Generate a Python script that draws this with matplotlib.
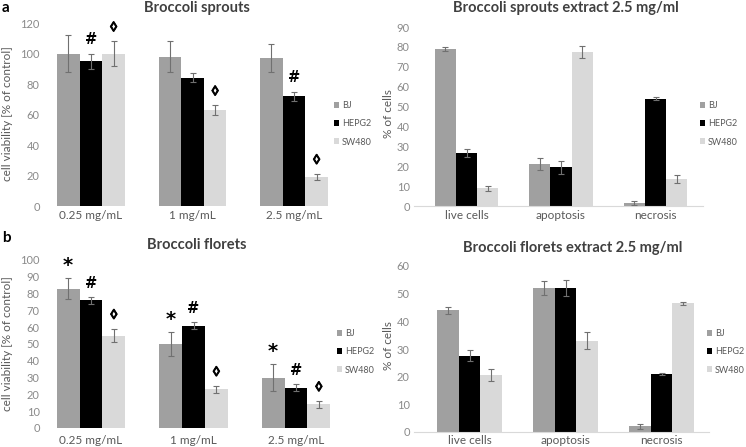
import matplotlib
matplotlib.use("Agg")
import matplotlib.pyplot as plt
import matplotlib.patheffects as pe
import numpy as np
from matplotlib.patches import Patch

plt.rcParams['font.family'] = ['Lato', 'DejaVu Sans']

series = ["BJ", "HEPG2", "SW480"]
colors = ["#a0a0a0", "#000000", "#d9d9d9"]

doses = ["0.25 mg/mL", "1 mg/mL", "2.5 mg/mL"]
death = ["live cells", "apoptosis", "necrosis"]

# Panel a left: Broccoli sprouts viability
sprouts_vals = [[100, 98, 97], [95, 84, 72], [100, 63, 19]]
sprouts_err = [[12, 10, 9], [5, 3, 3], [8, 3, 2]]
sprouts_marks = [[0, 0, 0], [1, 0, 1], [1, 1, 1]]

# Panel a right: Broccoli sprouts extract 2.5 mg/ml
sprext_vals = [[78.8, 21, 1.5], [26.5, 19.5, 54], [8.8, 77.5, 13.5]]
sprext_err = [[1, 3, 0.9], [2, 3.2, 0.9], [1.2, 3, 2]]

# Panel b left: Broccoli florets viability
florets_vals = [[83, 50, 30], [76, 61, 24], [55, 23, 14]]
florets_err = [[6, 7, 8], [2, 2, 2], [4, 2, 2]]
florets_marks = [[1, 1, 1], [1, 1, 1], [1, 1, 1]]

# Panel b right: Broccoli florets extract 2.5 mg/ml
florext_vals = [[44, 52, 2], [27.5, 52, 21], [20.5, 33, 46.5]]
florext_err = [[1.2, 2.5, 1], [2, 3, 0.5], [2.2, 3, 0.6]]

symbols = ["*", "#", "\u25CA"]

W, H = 746, 447
fig = plt.figure(figsize=(W / 100, H / 100), dpi=100)

tick_color = "#8a8a8a"
lab_color = "#595959"


def make_axes(x0, x1, ytop, ybot):
    return fig.add_axes([x0 / W, 1 - ybot / H, (x1 - x0) / W, (ybot - ytop) / H])


def draw(ax, cats, vals, errs, ymax, ystep, marks=None, baseline=False,
         legend_xy=None, xlim=(-0.5, 2.5), barw=0.223, xpad=3):
    x = np.arange(len(cats))
    for i, (v, e) in enumerate(zip(vals, errs)):
        ax.bar(x + (i - 1) * barw, v, width=barw, color=colors[i], zorder=2)
        ax.errorbar(x + (i - 1) * barw, v, yerr=e, fmt="none", ecolor="#707070",
                    elinewidth=0.8, capsize=2.5, capthick=0.8, zorder=3)
        if marks is not None:
            for j in range(len(cats)):
                if marks[i][j]:
                    sym = symbols[i]
                    if sym == "*":
                        kw = dict(fontsize=14, family="DejaVu Sans", xytext=(0, 9))
                    elif sym == "#":
                        kw = dict(fontsize=10.5, family="DejaVu Sans", xytext=(0, 10))
                    else:
                        kw = dict(fontsize=10, family=["Liberation Sans", "DejaVu Sans"],
                                  xytext=(0, 10),
                                  path_effects=[pe.withStroke(linewidth=0.6,
                                                              foreground="black")])
                    ax.annotate(sym, (x[j] + (i - 1) * barw, v[j] + e[j]),
                                textcoords="offset points", ha="center",
                                va="center", fontweight="bold", color="black", **kw)
    ax.set_xlim(*xlim)
    ax.set_ylim(0, ymax)
    ax.set_yticks(np.arange(0, ymax + 0.1, ystep))
    ax.set_xticks(x)
    ax.set_xticklabels(cats)
    for s in ["top", "right", "left"]:
        ax.spines[s].set_visible(False)
    if baseline:
        ax.spines["bottom"].set_color("#d9d9d9")
        ax.spines["bottom"].set_linewidth(0.8)
    else:
        ax.spines["bottom"].set_visible(False)
    ax.tick_params(axis="y", length=0, labelsize=8, colors=tick_color, pad=3)
    ax.tick_params(axis="x", length=0, labelsize=8.5, colors=lab_color, pad=xpad)
    handles = [Patch(facecolor=c, label=s) for c, s in zip(colors, series)]
    leg = fig.legend(handles=handles, loc="center left",
                     bbox_to_anchor=(legend_xy[0] / W, 1 - legend_xy[1] / H),
                     frameon=False, fontsize=6.5, handlelength=0.6, handleheight=0.6,
                     handletextpad=0.3, labelspacing=1.0, borderaxespad=0,
                     borderpad=0)
    for t in leg.get_texts():
        t.set_color(lab_color)


def xl(c0, s, x0, x1):
    return ((x0 - c0) / s, (x1 - c0) / s)


ax1 = make_axes(44, 345, 23, 206)
draw(ax1, doses, sprouts_vals, sprouts_err, 120, 20, marks=sprouts_marks,
     legend_xy=(334, 124), xlim=xl(91, 101.5, 44, 345))

ax2 = make_axes(414, 703, 27, 206)
draw(ax2, death, sprext_vals, sprext_err, 90, 10, baseline=True,
     legend_xy=(700, 124), xlim=xl(466.5, 94.5, 414, 703))

ax3 = make_axes(44, 347, 260, 428)
draw(ax3, doses, florets_vals, florets_err, 100, 10, marks=florets_marks,
     legend_xy=(337, 352), xlim=xl(91, 102.5, 44, 347), xpad=5)

ax4 = make_axes(414, 709, 266, 432)
draw(ax4, death, florext_vals, florext_err, 60, 10, baseline=True,
     legend_xy=(707, 352), xlim=xl(469.5, 96, 414, 709), xpad=2)

# y-axis labels
ylab_kw = dict(rotation=90, ha="center", va="center", fontsize=8.5, color=lab_color)
fig.text(8 / W, 1 - 114 / H, "cell viability [% of control]", **ylab_kw)
fig.text(388 / W, 1 - 114 / H, "% of cells", **ylab_kw)
fig.text(8 / W, 1 - 344 / H, "cell viability [% of control]", **ylab_kw)
fig.text(389 / W, 1 - 346 / H, "% of cells", **ylab_kw)

# titles
tkw = dict(ha="center", va="center", fontsize=10.5, fontweight="bold", color="#404040")
fig.text(197 / W, 1 - 8 / H, "Broccoli sprouts", **tkw)
fig.text(566 / W, 1 - 8 / H, "Broccoli sprouts extract 2.5 mg/ml", **tkw)
fig.text(197 / W, 1 - 245 / H, "Broccoli florets", **tkw)
fig.text(573 / W, 1 - 248 / H, "Broccoli florets extract 2.5 mg/ml", **tkw)

fig.text(2 / W, 1 - 8 / H, "a", fontsize=11, fontweight="bold", va="center", ha="left")
fig.text(2 / W, 1 - 238 / H, "b", fontsize=11, fontweight="bold", va="center", ha="left")

fig.savefig("out.png", dpi=100)
